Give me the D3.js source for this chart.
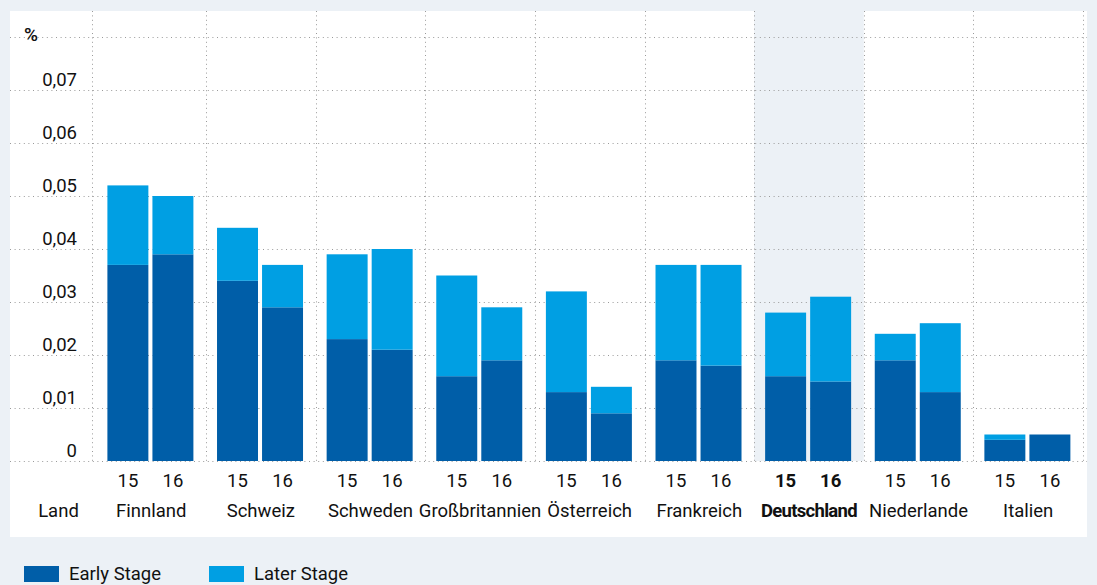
<!DOCTYPE html>
<html>
<head>
<meta charset="utf-8">
<script src="https://cdn.jsdelivr.net/npm/d3@7"></script>
<style>
  body { margin: 0; background: #ecf1f6; }
  svg { display: block; font-family: Roboto, "Noto Sans", sans-serif; }
</style>
</head>
<body>
<svg id="chart" width="1097" height="585"></svg>
<script>
// Chart data
const countries = ["Finnland", "Schweiz", "Schweden", "Großbritannien", "Österreich", "Frankreich", "Deutschland", "Niederlande", "Italien"];
const years = ["15", "16"];
const earlyStage = [[0.037, 0.039], [0.034, 0.029], [0.023, 0.021], [0.016, 0.019], [0.013, 0.009], [0.019, 0.018], [0.016, 0.015], [0.019, 0.013], [0.004, 0.005]];
const laterStage = [[0.015, 0.011], [0.010, 0.008], [0.016, 0.019], [0.019, 0.010], [0.019, 0.005], [0.018, 0.019], [0.012, 0.016], [0.005, 0.013], [0.001, 0.000]];
const yTicks = [0, 0.01, 0.02, 0.03, 0.04, 0.05, 0.06, 0.07, 0.08];
const highlight = "Deutschland";

const early_color = '#005ea8';
const later_color = '#009fe3';
const grid_color = '#9a9a9a';
const fontSize = 18.5;

const svg = d3.select("#chart");

// White panel
svg.append("rect")
    .attr("x", 10).attr("y", 11)
    .attr("width", 1077).attr("height", 526)
    .attr("fill", "#fff");

const y = d3.scaleLinear().domain([0, 0.08]).range([461, 37]);
const x = d3.scaleBand().domain(countries).range([96.4, 1083]);
const xYear = d3.scaleBand().domain(years).range([11, 97]).paddingInner(0.09);

// Highlighted column
svg.append("rect")
    .attr("x", x(highlight)).attr("y", 11)
    .attr("width", x.bandwidth()).attr("height", y(0) - 11)
    .attr("fill", "#ecf1f6");

// Horizontal dotted grid
svg.append("g").selectAll("line")
    .data(yTicks)
    .enter().append("line")
    .attr("x1", 10).attr("x2", 1087)
    .attr("y1", d => y(d) + 0.5).attr("y2", d => y(d) + 0.5)
    .attr("stroke", grid_color)
    .attr("stroke-width", 1)
    .attr("stroke-dasharray", "1,3.6");

// Vertical dotted grid
const vLines = [92].concat(countries.map(c => x(c) + x.bandwidth()));
svg.append("g").selectAll("line")
    .data(vLines)
    .enter().append("line")
    .attr("x1", d => Math.round(d) + 0.5).attr("x2", d => Math.round(d) + 0.5)
    .attr("y1", 11).attr("y2", y(0))
    .attr("stroke", grid_color)
    .attr("stroke-width", 1)
    .attr("stroke-dasharray", "1,3.4");

// Y tick labels
svg.append("g").selectAll("text")
    .data(yTicks.slice(0, -1))
    .enter().append("text")
    .attr("x", 77)
    .attr("y", d => y(d) - 4)
    .attr("text-anchor", "end")
    .attr("font-size", fontSize)
    .attr("fill", "#111")
    .text(d => d === 0 ? "0" : d3.format(".2f")(d).replace(".", ","));

svg.append("text")
    .attr("x", 24).attr("y", 41)
    .attr("font-size", 19).attr("font-weight", 500)
    .attr("letter-spacing", -1)
    .attr("fill", "#111")
    .text("%");

// Bars
const groups = svg.append("g").selectAll("g")
    .data(countries)
    .enter().append("g")
    .attr("transform", d => `translate(${x(d)},0)`);

groups.each(function(c, i) {
    const g = d3.select(this);
    const bold = c === highlight;
    years.forEach((yr, j) => {
        const e = earlyStage[i][j];
        const l = laterStage[i][j];
        g.append("rect")
            .attr("x", xYear(yr)).attr("width", xYear.bandwidth())
            .attr("y", y(e)).attr("height", y(0) - y(e))
            .attr("fill", early_color);
        if (l > 0) {
            g.append("rect")
                .attr("x", xYear(yr)).attr("width", xYear.bandwidth())
                .attr("y", y(e + l)).attr("height", y(e) - y(e + l))
                .attr("fill", later_color);
        }
        g.append("text")
            .attr("x", xYear(yr) + xYear.bandwidth() / 2)
            .attr("y", 487)
            .attr("text-anchor", "middle")
            .attr("font-size", fontSize)
            .attr("font-weight", bold ? "bold" : "normal")
            .attr("fill", "#111")
            .text(yr);
    });
    g.append("text")
        .attr("x", x.bandwidth() / 2)
        .attr("y", 517)
        .attr("text-anchor", "middle")
        .attr("font-size", fontSize)
        .attr("font-weight", bold ? "bold" : "normal")
        .attr("letter-spacing", bold ? -0.7 : 0)
        .attr("fill", "#111")
        .text(c);
});

svg.append("text")
    .attr("x", 58.5).attr("y", 517)
    .attr("text-anchor", "middle")
    .attr("font-size", fontSize)
    .attr("fill", "#111")
    .text("Land");

// Legend
const legend = svg.append("g").selectAll("g")
    .data([["Early Stage", early_color], ["Later Stage", later_color]])
    .enter().append("g")
    .attr("transform", (d, i) => `translate(${24 + i * 185},566)`);

legend.append("rect")
    .attr("width", 35).attr("height", 16)
    .attr("fill", d => d[1]);

legend.append("text")
    .attr("x", 45).attr("y", 14)
    .attr("font-size", fontSize)
    .attr("fill", "#111")
    .text(d => d[0]);
</script>
</body>
</html>
